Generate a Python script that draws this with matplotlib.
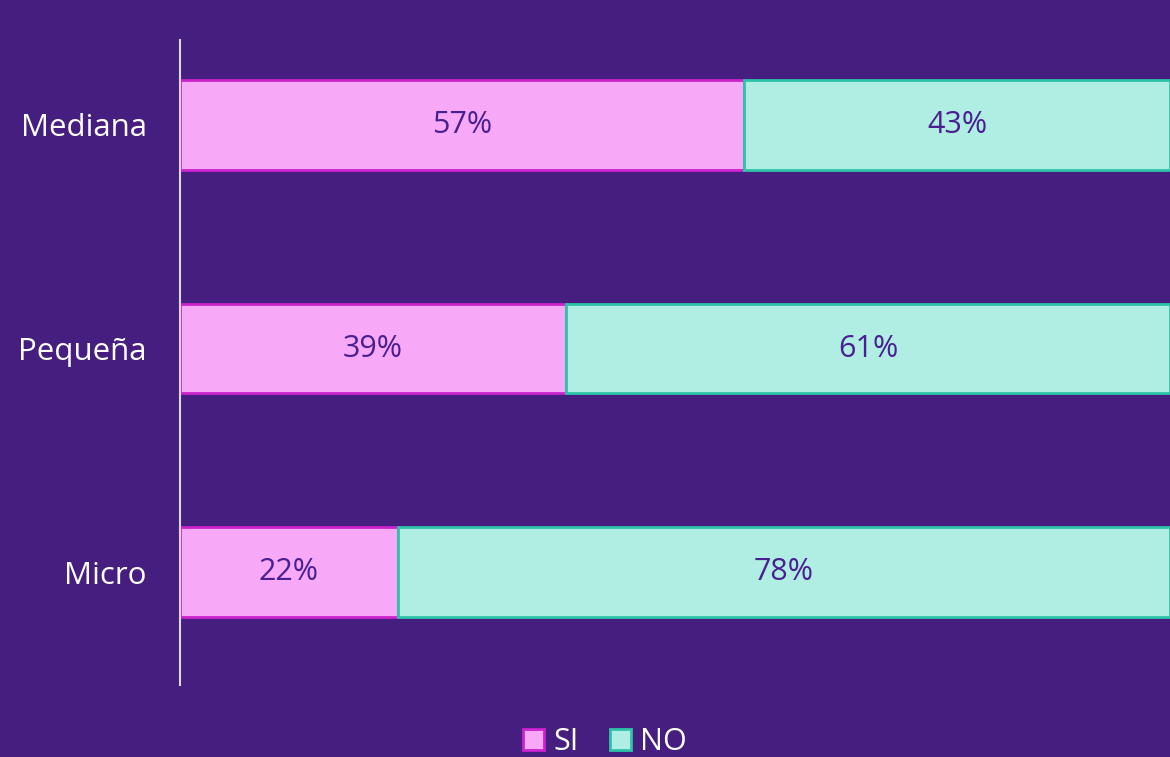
import numpy as np
import matplotlib.pyplot as plt

categories = ["Micro", "Pequeña", "Mediana"]
si_vals = [22, 39, 57]
no_vals = [78, 61, 43]

bg = "#461e80"
si_fill, si_edge = "#f7a8f7", "#cc22cc"
no_fill, no_edge = "#b0eee4", "#2ec4a8"

plt.rcParams['font.family'] = ['Open Sans', 'DejaVu Sans']

fig = plt.figure(figsize=(11.7, 7.57), dpi=100, facecolor=bg)
ax = fig.add_axes([180 / 1170, 72 / 757, 990 / 1170, 645 / 757])
ax.set_facecolor(bg)

y = np.arange(len(categories))
h = 0.4
b1 = ax.barh(y, si_vals, height=h, color=si_fill, edgecolor=si_edge, linewidth=2, label="SI")
b2 = ax.barh(y, no_vals, left=si_vals, height=h, color=no_fill, edgecolor=no_edge, linewidth=2, label="NO")

for i in range(len(categories)):
    ax.text(si_vals[i] / 2, y[i], f"{si_vals[i]}%", ha="center", va="center",
            fontsize=22, color="#4a2090")
    ax.text(si_vals[i] + no_vals[i] / 2, y[i], f"{no_vals[i]}%", ha="center", va="center",
            fontsize=22, color="#4a2090")

ax.set_xlim(0, 100)
ax.set_ylim(-0.505, 2.38)
ax.set_yticks(y)
ax.set_yticklabels(categories, fontsize=22.5, color="white")
ax.tick_params(axis="y", length=0, pad=24)
ax.set_xticks([])
for s in ["top", "right", "bottom"]:
    ax.spines[s].set_visible(False)
ax.spines["left"].set_color("#d9d9d9")
ax.spines["left"].set_linewidth(1.5)

leg = fig.legend(handles=[b1, b2], loc="center", bbox_to_anchor=(605 / 1170, 1 - 742 / 757),
                 ncol=2, frameon=False, fontsize=22, handlelength=0.7, handleheight=0.7,
                 handletextpad=0.3, columnspacing=1.0, labelcolor="white")

fig.savefig("out.png", dpi=100, facecolor=bg)
